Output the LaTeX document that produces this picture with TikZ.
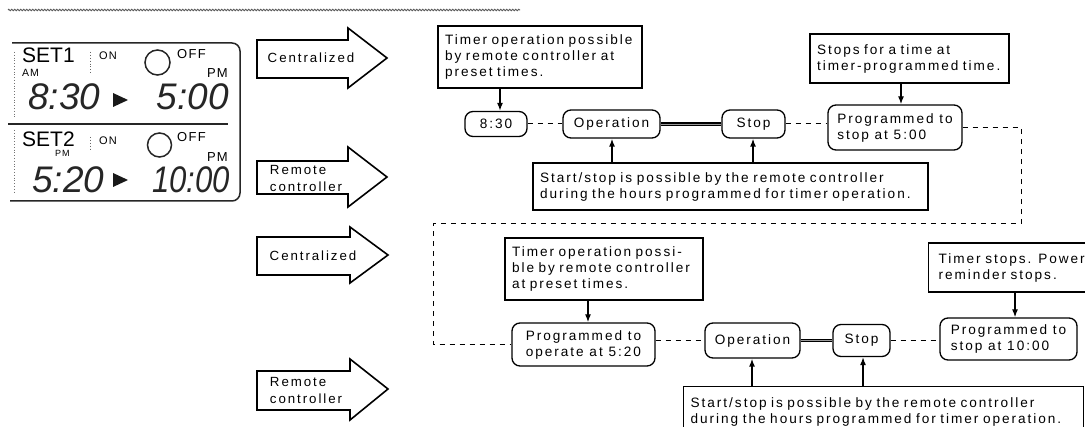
\documentclass[tikz,border=0pt]{standalone}
\usepackage{fontspec}
\setmainfont{Liberation Sans}
\newfontfamily\bxfont{Liberation Sans}[LetterSpace=14.5]
\newfontfamily\lcdfont{Liberation Sans}
\newfontfamily\lcdspfont{Liberation Sans}[LetterSpace=10]
\newcommand\bx{\bxfont\fontsize{13.6}{16}\selectfont}
\newcommand\albx{\bxfont\fontsize{13.3}{17}\selectfont}
\usetikzlibrary{arrows.meta,decorations.pathmorphing}
\tikzset{
  note/.style={draw, line width=1.3pt, rectangle, inner xsep=7pt, inner ysep=2pt, align=left, font=\bx},
  rbox/.style={draw, line width=1.3pt, rounded corners=8pt, inner xsep=3pt, inner ysep=2pt, align=left, font=\bx},
  arr/.style={line width=1.3pt, -{Latex[length=8pt,width=6pt]}},
  dsh/.style={line width=1pt, dash pattern=on 5pt off 5pt},
  dbl/.style={line width=1.5pt, double=black!40, double distance=0.9pt},
  blk/.style={line width=1.6pt, line join=miter, fill=white},
  albl/.style={font=\albx, align=left, inner sep=0pt},
  lcdtxt/.style={inner sep=0pt, anchor=base west},
  digits/.style={inner sep=0pt, font=\lcdfont\itshape\fontsize{37}{37}\selectfont, text=black!85},
}
\begin{document}
\begin{tikzpicture}[x=1pt,y=-1pt]
\useasboundingbox (0,0) rectangle (1085,427);
\clip (0,0) rectangle (1085,427);
\fill[white] (0,0) rectangle (1085,427);

% top rule
\draw[line width=1pt, black!65, decorate, decoration={zigzag, segment length=3pt, amplitude=0.7pt}] (8,10) -- (520,10);

% LCD panel
\draw[line width=1.5pt, black!85, rounded corners=8pt] (12,43) -- (240,43) -- (240,201) -- (10,201);
\draw[line width=1.5pt, black!85] (8,124) -- (228,124);
\draw[line width=0.8pt, black!55, dotted] (14,52) -- (14,117);
\draw[line width=0.8pt, black!55, dotted] (14,130) -- (14,192);
\draw[line width=0.9pt, black!60, dotted] (90,52) -- (90,75);
\draw[line width=0.9pt, black!60, dotted] (90,137) -- (90,150);
\draw[line width=1.5pt, black!85] (157.5,62.5) circle[radius=12.5pt];
\draw[line width=1.5pt, black!85] (159.5,145) circle[radius=12pt];
\fill[black!90] (113,93) -- (128,100) -- (113,107) -- cycle;
\fill[black!90] (113,173) -- (128,180) -- (113,187) -- cycle;

\node[lcdtxt, font=\lcdfont\fontsize{21}{21}\selectfont] (set1) at (22,63) {SET1};
\node[lcdtxt, font=\lcdspfont\fontsize{10.5}{10.5}\selectfont] (am) at (22,77) {AM};
\node[lcdtxt, font=\lcdspfont\fontsize{11}{11}\selectfont] (on1) at (99,60) {ON};
\node[lcdtxt, font=\lcdspfont\fontsize{13}{13}\selectfont] (off1) at (177,59) {OFF};
\node[lcdtxt, anchor=base east, font=\lcdspfont\fontsize{13}{13}\selectfont] (pm1) at (228,78) {PM};
\node[digits, anchor=base west] (d1) at (28,110) {8:30};
\node[digits, anchor=base east] (d2) at (229,110) {5:00};

\node[lcdtxt, font=\lcdfont\fontsize{21}{21}\selectfont] (set2) at (22,147) {SET2};
\node[lcdtxt, font=\lcdspfont\fontsize{9}{9}\selectfont] (pm2) at (55,157) {PM};
\node[lcdtxt, font=\lcdspfont\fontsize{11}{11}\selectfont] (on2) at (99,145) {ON};
\node[lcdtxt, font=\lcdspfont\fontsize{13}{13}\selectfont] (off2) at (177,142) {OFF};
\node[lcdtxt, anchor=base east, font=\lcdspfont\fontsize{13}{13}\selectfont] (pm3) at (228,162) {PM};
\node[digits, anchor=base west] (d3) at (32,193) {5:20};
\node[digits, anchor=base east, xscale=0.84] (d4) at (230,193) {10:00};

% block arrows
\draw[blk] (257,40) -- (348,40) -- (348,28) -- (387,58) -- (348,88) -- (348,78) -- (257,78) -- cycle;
\node[albl] (l1) at (311,58) {Centralized};
\draw[blk] (257,161) -- (348,161) -- (348,147) -- (387,177) -- (348,207) -- (348,194) -- (257,194) -- cycle;
\node[albl] (l2) at (306,178) {Remote\\controller};
\draw[blk] (257,237) -- (350,237) -- (350,227) -- (388,255) -- (350,283) -- (350,275) -- (257,275) -- cycle;
\node[albl] (l3) at (313,256) {Centralized};
\draw[blk] (257,371) -- (350,371) -- (350,359) -- (388,389) -- (350,420) -- (350,410) -- (257,410) -- cycle;
\node[albl] (l4) at (306,390) {Remote\\controller};

% upper flow
\node[note, minimum width=204pt, minimum height=62pt, text width=190pt] (t1) at (540,57) {Timer operation possible\\by remote controller at\\preset times.};
\node[rbox, minimum width=62pt, minimum height=25pt] (n830) at (496,124) {8:30};
\node[rbox, minimum width=97pt, minimum height=28pt] (op1) at (611.5,124) {Operation};
\node[rbox, minimum width=63pt, minimum height=28pt] (st1) at (753.5,124) {Stop};
\node[rbox, minimum width=134pt, minimum height=45pt] (pr1) at (895,127.5) {Programmed to\\stop at 5:00};
\node[note, minimum width=199pt, minimum height=49pt, text width=185pt] (t2) at (909.5,58.5) {Stops for a time at\\timer-programmed time.};
\node[note, minimum width=395pt, minimum height=47pt, text width=381pt] (b1) at (730.5,186.5) {Start/stop is possible by the remote controller\\during the hours programmed for timer operation.};

% lower flow
\node[note, minimum width=198pt, minimum height=62pt, text width=184pt] (t3) at (604,269) {Timer operation possi-\\ble by remote controller\\at preset times.};
\node[rbox, minimum width=143pt, minimum height=43pt] (pr2) at (583.5,344.5) {Programmed to\\operate at 5:20};
\node[rbox, minimum width=95pt, minimum height=35pt] (op2) at (752.5,340.5) {Operation};
\node[rbox, minimum width=57pt, minimum height=32pt] (st2) at (861.5,340.5) {Stop};
\node[rbox, minimum width=137pt, minimum height=42pt] (pr3) at (1008.5,339) {Programmed to\\stop at 10:00};
\node[note, anchor=west, inner xsep=10pt, minimum width=180pt, minimum height=49pt, text width=160pt] (t4) at (928,267.5) {Timer stops. Power\\reminder stops.};
\node[note, anchor=north west, minimum width=400pt, minimum height=50pt, text width=386pt] (b2) at (683,386) {Start/stop is possible by the remote controller\\during the hours programmed for timer operation.};

% arrow x positions
\coordinate (a1) at (500,0);
\coordinate (a2) at (612,0);
\coordinate (a3) at (753,0);
\coordinate (a4) at (901,0);
\coordinate (a5) at (588,0);
\coordinate (a6) at (1015,0);
\coordinate (a7) at (752,0);
\coordinate (a8) at (863,0);
\coordinate (c1) at (1021,224);
\coordinate (c2) at (433,224);

\draw[arr] (t1.south -| a1) -- (n830.north -| a1);
\draw[arr] (b1.north -| a2) -- (op1.south -| a2);
\draw[arr] (b1.north -| a3) -- (st1.south -| a3);
\draw[arr] (t2.south -| a4) -- (pr1.north -| a4);
\draw[arr] (t3.south -| a5) -- (pr2.north -| a5);
\draw[arr] (t4.south -| a6) -- (pr3.north -| a6);
\draw[arr] (b2.north -| a7) -- (op2.south -| a7);
\draw[arr] (b2.north -| a8) -- (st2.south -| a8);

\draw[dsh] (n830) -- (op1);
\draw[dbl] (op1) -- (st1);
\draw[dsh] (st1.east) -- (st1.east -| pr1.west);
\draw[dsh] (pr1.east) -| (c1) -- (c2) |- (pr2.west);
\draw[dsh] (op2.west -| pr2.east) -- (op2.west);
\draw[dbl] (op2) -- (st2);
\draw[dsh] (st2.east) -- (st2.east -| pr3.west);
\end{tikzpicture}
\end{document}
